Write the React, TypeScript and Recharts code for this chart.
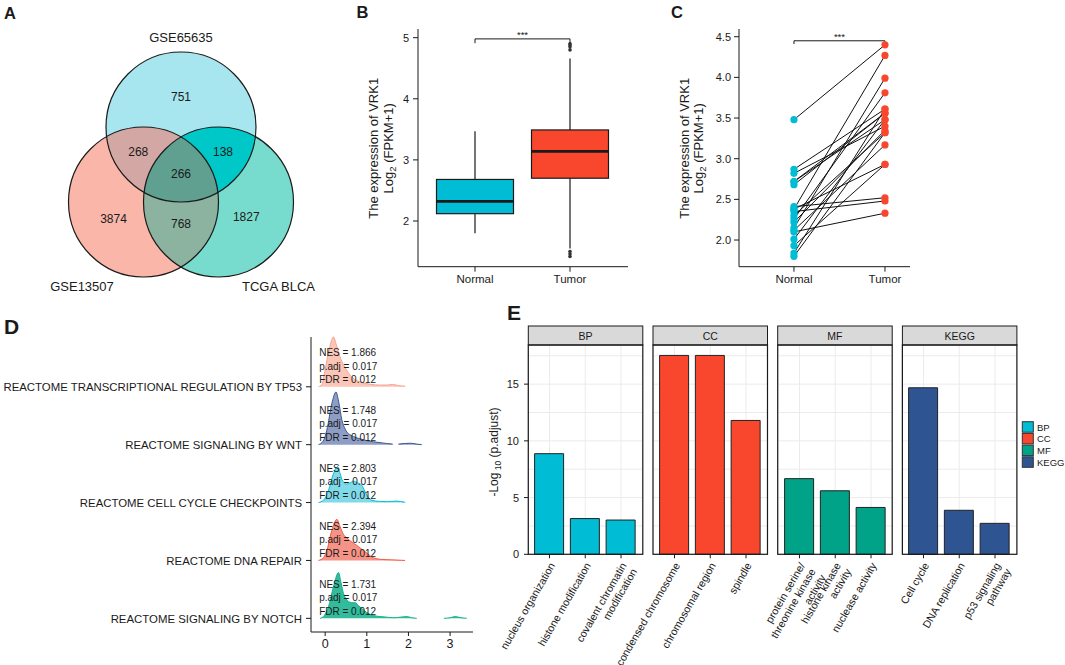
import React from 'react';
import {
  ScatterChart,
  Scatter,
  XAxis,
  YAxis,
  ZAxis,
  ComposedChart,
  Bar,
  Line,
  Area,
  BarChart,
  CartesianGrid,
  ReferenceLine,
} from 'recharts';

const FONT = '"Liberation Sans", Arial, Helvetica, sans-serif';
const INK = '#1a1a1a';

// ---------- A: Venn (unit circles, centres in venn units) ----------
const vennSets = [
  { name: 'GSE65635', x: 0, y: 1.0, r: 1 },
  { name: 'GSE13507', x: -0.5, y: 0, r: 1 },
  { name: 'TCGA BLCA', x: 0.5, y: 0, r: 1 },
];
const vennSetLabels = [
  { name: 'GSE65635', x: 0, y: 2.2 },
  { name: 'GSE13507', x: -1.32, y: -1.12 },
  { name: 'TCGA BLCA', x: 1.3, y: -1.12 },
];
const vennCounts = [
  { n: 751, x: 0, y: 1.4 },
  { n: 268, x: -0.57, y: 0.67 },
  { n: 138, x: 0.56, y: 0.67 },
  { n: 266, x: 0, y: 0.37 },
  { n: 3874, x: -0.9, y: -0.22 },
  { n: 768, x: 0, y: -0.29 },
  { n: 1827, x: 0.87, y: -0.2 },
];
const vennOverlaps = [[0, 1], [0, 2], [1, 2], [0, 1, 2]];
const vennFill = ['#A7E5EF', '#FBB6AA', '#77DCCD'];
const vennOverlapFill = ['#D3A7A3', '#00C8C8', '#8BB3A0', '#5FA091'];

// ---------- B: box plot ----------
const boxGroups = ['Normal', 'Tumor'];
const boxMin = [1.8, 1.55];
const boxQ1 = [2.12, 2.7];
const boxMedian = [2.32, 3.14];
const boxQ3 = [2.68, 3.49];
const boxMax = [3.47, 4.66];
const boxOutliers = [[], [4.8, 4.85, 4.88, 4.9, 1.5, 1.46, 1.42]];
const boxColors = ['#00BCD4', '#F9472E'];

// ---------- C: paired samples ----------
const pairedNormal = [3.48, 2.87, 2.82, 2.72, 2.68, 2.41, 2.38, 2.35, 2.3, 2.26, 2.22, 2.15, 2.12, 2.1, 2.01, 1.93, 1.84, 1.8, 2.38, 2.72];
const pairedTumor = [4.4, 3.61, 3.4, 3.48, 3.56, 2.52, 4.27, 2.48, 3.32, 3.81, 3.35, 3.99, 3.17, 2.33, 3.48, 2.93, 3.61, 3.32, 2.93, 3.56];

// ---------- D: GSEA ridges ----------
const pathways = [
  'REACTOME TRANSCRIPTIONAL REGULATION BY TP53',
  'REACTOME SIGNALING BY WNT',
  'REACTOME CELL CYCLE CHECKPOINTS',
  'REACTOME DNA REPAIR',
  'REACTOME SIGNALING BY NOTCH',
];
const nes = ['1.866', '1.748', '2.803', '2.394', '1.731'];
const padj = ['0.017', '0.017', '0.017', '0.017', '0.017'];
const fdr = ['0.012', '0.012', '0.012', '0.012', '0.012'];
type Pt = [number, number | null];
const ridgeTp53: Pt[] = [[-0.16, 0], [-0.08, 0.04], [0.0, 0.3], [0.1, 0.66], [0.2, 0.86], [0.27, 0.72], [0.35, 0.53], [0.44, 0.38], [0.52, 0.28], [0.6, 0.2], [0.7, 0.13], [0.82, 0.09], [0.96, 0.06], [1.12, 0.04], [1.3, 0.03], [1.48, 0.03], [1.62, 0.04], [1.76, 0.02], [1.92, 0.01]];
const ridgeWnt: Pt[] = [[-0.16, 0], [-0.05, 0.06], [0.04, 0.25], [0.16, 0.71], [0.26, 0.91], [0.33, 0.72], [0.4, 0.43], [0.46, 0.3], [0.52, 0.22], [0.6, 0.17], [0.68, 0.14], [0.84, 0.1], [1.0, 0.07], [1.16, 0.05], [1.32, 0.035], [1.48, 0.02], [1.62, 0.01], [1.68, null], [1.76, 0.01], [1.9, 0.02], [2.05, 0.025], [2.2, 0.01], [2.32, 0]];
const ridgeCc: Pt[] = [[-0.16, 0], [-0.04, 0.04], [0.08, 0.21], [0.2, 0.5], [0.3, 0.62], [0.36, 0.5], [0.42, 0.37], [0.52, 0.32], [0.6, 0.34], [0.68, 0.37], [0.78, 0.34], [0.88, 0.3], [0.95, 0.2], [1.0, 0.13], [1.06, 0.07], [1.12, 0.04], [1.3, 0.02], [1.5, 0.015], [1.7, 0.025], [1.92, 0.005]];
const ridgeDna: Pt[] = [[-0.16, 0], [-0.04, 0.05], [0.04, 0.17], [0.16, 0.52], [0.28, 0.71], [0.36, 0.58], [0.44, 0.45], [0.52, 0.39], [0.6, 0.34], [0.7, 0.29], [0.8, 0.24], [0.9, 0.18], [1.0, 0.13], [1.12, 0.06], [1.32, 0.02], [1.6, 0.01], [1.92, 0]];
const ridgeNotch: Pt[] = [[-0.12, 0], [-0.02, 0.05], [0.08, 0.2], [0.2, 0.55], [0.32, 0.79], [0.38, 0.62], [0.44, 0.43], [0.5, 0.34], [0.56, 0.29], [0.64, 0.27], [0.72, 0.27], [0.8, 0.22], [0.88, 0.17], [1.0, 0.1], [1.16, 0.05], [1.32, 0.03], [1.48, 0.02], [1.64, 0.01], [1.8, 0.02], [1.96, 0.03], [2.08, 0.01], [2.2, 0], [2.5, null], [2.85, 0], [3.0, 0.01], [3.12, 0.03], [3.26, 0.01], [3.4, 0]];
const ridges = [ridgeTp53, ridgeWnt, ridgeCc, ridgeDna, ridgeNotch];
const ridgeStroke = ['#F7A38C', '#3B5790', '#00BDD6', '#F85A41', '#16AE8F'];
const ridgeFill = ['#FBC5B7', '#8D9DC3', '#80DAEA', '#F59486', '#33BC9C'];

// ---------- E: enrichment facets ----------
const facetNames = ['BP', 'CC', 'MF', 'KEGG'];
const bpTerms = ['nucleus organization', 'histone modification', 'covalent chromatin\nmodification'];
const bpValues = [8.87, 3.15, 3.02];
const ccTerms = ['condensed chromosome', 'chromosomal region', 'spindle'];
const ccValues = [17.53, 17.53, 11.8];
const mfTerms = ['protein serine/\nthreonine kinase\nactivity', 'histone kinase\nactivity', 'nuclease activity'];
const mfValues = [6.67, 5.6, 4.13];
const keggTerms = ['Cell cycle', 'DNA replication', 'p53 signaling\npathway'];
const keggValues = [14.68, 3.88, 2.73];
const facetTerms = [bpTerms, ccTerms, mfTerms, keggTerms];
const facetValues = [bpValues, ccValues, mfValues, keggValues];
const facetColors = ['#00BCD4', '#F9472E', '#00A387', '#2E5492'];
const eGrid = [0, 2.5, 5, 7.5, 10, 12.5, 15, 17.5];

const FACET_LEFT = 528.3;
const FACET_STEP = 124.7;
const FACET_W = 114.5;
const FACET_TOP = 345;
const FACET_H = 209.3;

// ---------- A ----------
const renderSet = (p: any) => {
  const r = p.width / 2;
  return (
    <g>
      <defs>
        <clipPath id={`venn-clip-${p.payload.idx}`}>
          <circle cx={p.cx} cy={p.cy} r={r} />
        </clipPath>
      </defs>
      <circle cx={p.cx} cy={p.cy} r={r} fill={vennFill[p.payload.idx]} />
    </g>
  );
};
const renderOverlap = (p: any) => {
  const r = p.width / 2;
  let node: React.ReactElement = <circle cx={p.cx} cy={p.cy} r={r} fill={vennOverlapFill[p.payload.k]} />;
  p.payload.sets.slice(1).forEach((s: number) => {
    node = <g clipPath={`url(#venn-clip-${s})`}>{node}</g>;
  });
  return node;
};
const renderOutline = (p: any) => (
  <circle cx={p.cx} cy={p.cy} r={p.width / 2} fill="none" stroke={INK} strokeWidth={1.2} />
);
const renderCount = (p: any) => (
  <text x={p.cx} y={p.cy} textAnchor="middle" dominantBaseline="central" fontSize={12} fill={INK}>
    {p.payload.n}
  </text>
);
const renderSetLabel = (p: any) => (
  <text x={p.cx} y={p.cy} textAnchor="middle" dominantBaseline="central" fontSize={13} fill={INK}>
    {p.payload.name}
  </text>
);

function VennPanel() {
  const sets = vennSets.map((s, i) => ({ ...s, idx: i }));
  const overlaps = vennOverlaps.map((o, k) => ({ ...vennSets[o[0]], sets: o, k }));
  return (
    <ScatterChart width={362} height={310} margin={{ top: 0, right: 0, bottom: 0, left: 0 }}>
      <XAxis type="number" dataKey="x" domain={[-181 / 75, 181 / 75]} hide />
      <YAxis type="number" dataKey="y" domain={[-108 / 75, 202 / 75]} hide />
      <ZAxis type="number" dataKey="r" domain={[0, 1]} range={[0, Math.PI * 75 * 75]} />
      <Scatter data={sets} shape={renderSet} isAnimationActive={false} />
      <Scatter data={overlaps} shape={renderOverlap} isAnimationActive={false} />
      <Scatter data={vennSets} shape={renderOutline} isAnimationActive={false} />
      <Scatter data={vennCounts} shape={renderCount} isAnimationActive={false} />
      <Scatter data={vennSetLabels} shape={renderSetLabel} isAnimationActive={false} />
    </ScatterChart>
  );
}

// ---------- B ----------
const renderBox = (p: any) => {
  const d = p.payload;
  const { x, y, width, height, index } = p;
  const ppu = height / (d.q3 - d.q1);
  const toY = (v: number) => y + (d.q3 - v) * ppu;
  const cx = x + width / 2;
  return (
    <g>
      <line x1={cx} x2={cx} y1={toY(d.max)} y2={toY(d.q3)} stroke={INK} strokeWidth={1.2} />
      <line x1={cx} x2={cx} y1={toY(d.q1)} y2={toY(d.min)} stroke={INK} strokeWidth={1.2} />
      <rect x={x} y={y} width={width} height={height} fill={boxColors[index]} stroke={INK} strokeWidth={1.2} />
      <line x1={x} x2={x + width} y1={toY(d.median)} y2={toY(d.median)} stroke={INK} strokeWidth={2.8} />
      {d.outliers.map((v: number, i: number) => (
        <circle key={i} cx={cx} cy={toY(v)} r={1.8} fill="#333" />
      ))}
    </g>
  );
};

function BoxPanel() {
  const data = boxGroups.map((g, i) => ({
    group: g,
    min: boxMin[i],
    q1: boxQ1[i],
    median: boxMedian[i],
    q3: boxQ3[i],
    max: boxMax[i],
    outliers: boxOutliers[i],
  }));
  return (
    <ComposedChart width={300} height={300} data={data} margin={{ top: 29, right: 2, bottom: 3.3, left: 48 }}>
      <XAxis dataKey="group" padding={{ left: 9.5, right: 10.5 }} height={30} tickSize={5} tickMargin={3}
        axisLine={{ stroke: INK }} tickLine={{ stroke: INK }} tick={{ fill: INK, fontSize: 11.5 }} />
      <YAxis type="number" domain={[1.252, 5.142]} ticks={[2, 3, 4, 5]} width={40} tickSize={5} tickMargin={4}
        axisLine={{ stroke: INK }} tickLine={{ stroke: INK }} tick={{ fill: INK, fontSize: 11 }} />
      <Bar dataKey={(d: any) => [d.q1, d.q3]} barSize={77} shape={renderBox} isAnimationActive={false} />
      <ReferenceLine segment={[{ x: 'Normal', y: 4.98 }, { x: 'Tumor', y: 4.98 }]} stroke={INK}
        label={{ value: '***', position: 'top', fontSize: 9.5, fill: INK, offset: 1 }} />
      <ReferenceLine segment={[{ x: 'Normal', y: 4.98 }, { x: 'Normal', y: 4.91 }]} stroke={INK} />
      <ReferenceLine segment={[{ x: 'Tumor', y: 4.98 }, { x: 'Tumor', y: 4.91 }]} stroke={INK} />
    </ComposedChart>
  );
}

// ---------- C ----------
const renderNormalDot = (p: any) => <circle cx={p.cx} cy={p.cy} r={3.6} fill="#00BCD4" />;
const renderTumorDot = (p: any) => <circle cx={p.cx} cy={p.cy} r={3.6} fill="#F9472E" />;

function PairedPanel() {
  const rows = [1, 2].map((x) => {
    const row: any = { x };
    pairedNormal.forEach((v, i) => {
      row[`p${i}`] = x === 1 ? v : pairedTumor[i];
    });
    return row;
  });
  return (
    <ComposedChart width={275} height={300} data={rows} margin={{ top: 29, right: 5, bottom: 3.3, left: 59 }}>
      <XAxis type="number" dataKey="x" domain={[0.396, 2.275]} ticks={[1, 2]} tickFormatter={(v) => boxGroups[v - 1]}
        height={30} tickSize={5} tickMargin={3} axisLine={{ stroke: INK }} tickLine={{ stroke: INK }}
        tick={{ fill: INK, fontSize: 11.5 }} />
      <YAxis type="number" domain={[1.672, 4.595]} ticks={[2, 2.5, 3, 3.5, 4, 4.5]} tickFormatter={(v) => v.toFixed(1)}
        width={40} tickSize={5} tickMargin={3} axisLine={{ stroke: INK }} tickLine={{ stroke: INK }}
        tick={{ fill: INK, fontSize: 11 }} />
      {pairedNormal.map((_, i) => (
        <Line key={i} dataKey={`p${i}`} stroke="#111" strokeWidth={1} dot={false} activeDot={false} isAnimationActive={false} />
      ))}
      <Scatter data={pairedNormal.map((v) => ({ x: 1, y: v }))} dataKey="y" shape={renderNormalDot} isAnimationActive={false} />
      <Scatter data={pairedTumor.map((v) => ({ x: 2, y: v }))} dataKey="y" shape={renderTumorDot} isAnimationActive={false} />
      <ReferenceLine segment={[{ x: 1, y: 4.45 }, { x: 2, y: 4.45 }]} stroke={INK}
        label={{ value: '***', position: 'top', fontSize: 9.5, fill: INK, offset: 1 }} />
      <ReferenceLine segment={[{ x: 1, y: 4.45 }, { x: 1, y: 4.41 }]} stroke={INK} />
      <ReferenceLine segment={[{ x: 2, y: 4.45 }, { x: 2, y: 4.41 }]} stroke={INK} />
    </ComposedChart>
  );
}

// ---------- D ----------
const renderGsea = (p: any) => {
  const i = p.payload.i;
  return (
    <g fontSize={10} fill={INK}>
      <text x={p.cx} y={p.cy - 30.7}>{`NES = ${nes[i]}`}</text>
      <text x={p.cx} y={p.cy - 17.2}>{`p.adj = ${padj[i]}`}</text>
      <text x={p.cx} y={p.cy - 3.6}>{`FDR = ${fdr[i]}`}</text>
    </g>
  );
};
const renderPathwayTick = (p: any) => (
  <text x={p.x} y={p.y} dy={4.2} textAnchor="end" fontSize={11.4} fill={INK}>
    {pathways[5 - p.payload.value]}
  </text>
);

function RidgePanel() {
  return (
    <ComposedChart width={480} height={350} margin={{ top: 27, right: 7, bottom: 3, left: 0 }}>
      <XAxis type="number" dataKey="x" domain={[-0.34, 3.55]} ticks={[0, 1, 2, 3]} height={25} tickSize={4}
        tickMargin={3} axisLine={{ stroke: INK }} tickLine={{ stroke: INK }} tick={{ fill: INK, fontSize: 12.5 }} />
      <YAxis type="number" domain={[0.764, 5.845]} ticks={[1, 2, 3, 4, 5]} interval={0} width={311}
        tickSize={5} tickMargin={4} axisLine={{ stroke: INK }} tickLine={{ stroke: INK }} tick={renderPathwayTick} />
      {ridges.map((r, i) => (
        <Area
          key={i}
          data={r.map(([x, h]) => ({ x, y: h === null ? null : 5 - i + h }))}
          dataKey="y"
          baseValue={5 - i}
          type="monotone"
          stroke={ridgeStroke[i]}
          strokeWidth={1}
          fill={ridgeFill[i]}
          fillOpacity={1}
          connectNulls={false}
          dot={false}
          activeDot={false}
          isAnimationActive={false}
        />
      ))}
      <Scatter data={pathways.map((_, i) => ({ x: -0.144, y: 5 - i, i }))} dataKey="y" shape={renderGsea}
        isAnimationActive={false} />
    </ComposedChart>
  );
}

// ---------- E ----------
const renderTermTick = (p: any) => {
  const lines = String(p.payload.value).split('\n');
  return (
    <text transform={`translate(${p.x + 6},${p.y + 7}) rotate(-60)`} textAnchor="end" fontSize={10.7} fill={INK}>
      {lines.map((l, i) => (
        <tspan key={i} x={0} dy={i === 0 ? 0 : 12}>
          {l}
        </tspan>
      ))}
    </text>
  );
};
const renderValueTick = (p: any) => {
  const v = p.payload.value;
  if (v % 5 !== 0) return <g />;
  return (
    <g>
      <line x1={p.x + 2} x2={p.x + 6} y1={p.y} y2={p.y} stroke={INK} />
      <text x={p.x - 3} y={p.y} dy={4} textAnchor="end" fontSize={11} fill={INK}>
        {v}
      </text>
    </g>
  );
};

function FacetPanel({ k }: { k: number }) {
  const data = facetTerms[k].map((t, i) => ({ term: t, v: facetValues[k][i] }));
  return (
    <BarChart width={169.5} height={320} data={data} barSize={29}
      margin={{ top: 0, right: 5, bottom: 0, left: k === 0 ? 2 : 50 }}>
      <CartesianGrid stroke="#EBEBEB" strokeWidth={1} />
      <XAxis dataKey="term" interval={0} padding={{ left: 3.6, right: 3.6 }} height={110.7} tickSize={4}
        tickMargin={0} axisLine={false} tickLine={{ stroke: INK }} tick={renderTermTick} />
      <YAxis type="number" domain={[0, 18.45]} ticks={eGrid} interval={0} width={48} tickSize={6} tickMargin={0}
        axisLine={false} tickLine={false} tick={renderValueTick} hide={k !== 0} />
      <Bar dataKey="v" fill={facetColors[k]} stroke="#222" strokeWidth={1} isAnimationActive={false} />
    </BarChart>
  );
}

// ---------- overlay: letters, titles, strips, legend ----------
function Overlay() {
  return (
    <svg width={1065} height={665} style={{ position: 'absolute', left: 0, top: 0, pointerEvents: 'none' }}
      fontFamily={FONT} fill={INK}>
      <g fontWeight="bold">
        <text x={4} y={18.5} fontSize={16.5}>A</text>
        <text x={356.5} y={17.5} fontSize={16.5}>B</text>
        <text x={671} y={17.5} fontSize={16.5}>C</text>
        <text x={4} y={334} fontSize={21}>D</text>
        <text x={507} y={320} fontSize={21}>E</text>
      </g>
      <text transform="translate(378,148.3) rotate(-90)" textAnchor="middle" fontSize={13}>The expression of VRK1</text>
      <text transform="translate(393,148.3) rotate(-90)" textAnchor="middle" fontSize={13}>
        Log<tspan fontSize={9.5} dy={3}>2</tspan>
        <tspan dy={-3}> (FPKM+1)</tspan>
      </text>
      <text transform="translate(689,148.3) rotate(-90)" textAnchor="middle" fontSize={13}>The expression of VRK1</text>
      <text transform="translate(703,148.3) rotate(-90)" textAnchor="middle" fontSize={13}>
        Log<tspan fontSize={9.5} dy={3}>2</tspan>
        <tspan dy={-3}> (FPKM+1)</tspan>
      </text>
      <text transform="translate(498,452) rotate(-90)" textAnchor="middle" fontSize={12}>
        -Log<tspan fontSize={8.5} dy={3}> 10</tspan>
        <tspan dy={-3}> (p.adjust)</tspan>
      </text>
      {facetNames.map((n, k) => {
        const left = FACET_LEFT + k * FACET_STEP;
        return (
          <g key={n}>
            <rect x={left} y={FACET_TOP - 19} width={FACET_W} height={19} fill="#D9D9D9" stroke={INK} strokeWidth={1} />
            <text x={left + FACET_W / 2} y={FACET_TOP - 9.5} textAnchor="middle" dominantBaseline="central" fontSize={10.5}>
              {n}
            </text>
            <rect x={left} y={FACET_TOP} width={FACET_W} height={FACET_H} fill="none" stroke={INK} strokeWidth={1.2} />
          </g>
        );
      })}
      {facetNames.map((n, k) => (
        <g key={`lg-${n}`}>
          <rect x={1022.3} y={421.7 + k * 11.7} width={11} height={10.5} fill={facetColors[k]} stroke="#333" strokeWidth={1} />
          <text x={1037} y={427 + k * 11.7} dominantBaseline="central" fontSize={9.5}>{n}</text>
        </g>
      ))}
    </svg>
  );
}

export default function App() {
  return (
    <div style={{ position: 'relative', width: 1065, height: 665, fontFamily: FONT, background: '#fff', overflow: 'hidden' }}>
      <style>{'body{margin:0}'}</style>
      <div style={{ position: 'absolute', left: 0, top: 0 }}>
        <VennPanel />
      </div>
      <div style={{ position: 'absolute', left: 330, top: 0 }}>
        <BoxPanel />
      </div>
      <div style={{ position: 'absolute', left: 640, top: 0 }}>
        <PairedPanel />
      </div>
      <div style={{ position: 'absolute', left: 0, top: 310 }}>
        <RidgePanel />
      </div>
      {facetNames.map((n, k) => (
        <div key={n} style={{ position: 'absolute', left: FACET_LEFT + k * FACET_STEP - 50, top: FACET_TOP }}>
          <FacetPanel k={k} />
        </div>
      ))}
      <Overlay />
    </div>
  );
}
